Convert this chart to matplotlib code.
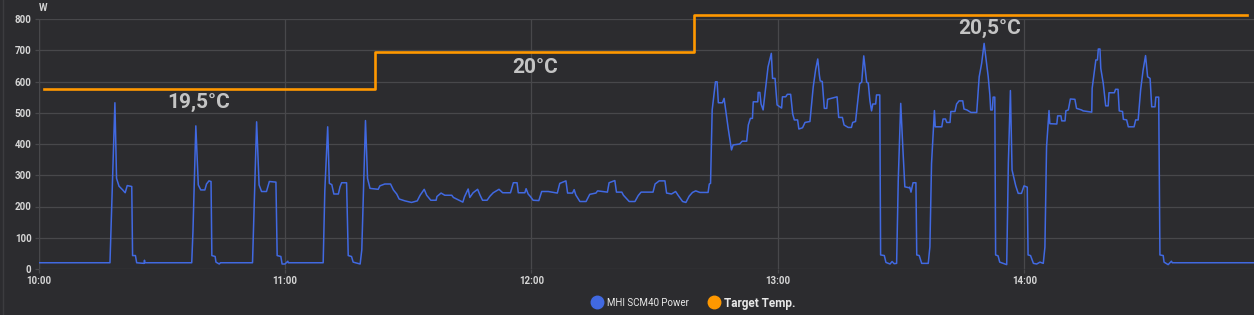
import matplotlib.pyplot as plt
from matplotlib.lines import Line2D

# minutes after 10:00 and power in W
power_min = [0, 17.4, 18.6, 19.0, 19.6, 20.5, 21.1, 21.6, 22.7, 22.9, 23.6, 23.9, 25.7, 25.8, 25.9,
             37.3, 37.6, 38.3, 38.9, 39.5, 40.5, 40.9, 41.5, 42.0, 42.2, 43.0, 43.2, 44.0, 44.3,
             52.1, 53.1, 53.7, 54.3, 55.5, 56.2, 57.8, 58.1, 59.0, 59.3, 60.0, 60.7, 60.8,
             69.3, 69.7, 70.4, 70.8, 71.4, 71.9, 73.0, 73.4, 73.8, 75.0, 75.4, 76.2, 76.6, 78.3,
             78.7, 79.6, 80.1, 80.7, 82.7, 83.1, 84.3, 85.7, 86.4, 87.2, 87.8, 89.2, 90.8, 92.2,
             92.9, 93.9, 94.5, 95.5, 96.8, 97.0, 98.0, 98.9, 100.6, 101.0, 103.3, 103.7, 104.6,
             105.0, 105.8, 106.9, 107.5, 108.1, 109.2, 109.9, 110.7, 112.1, 113.0, 114.9, 115.6,
             116.5, 116.8, 118.4, 118.7, 119.2, 119.8, 120.4, 121.8, 122.5, 124.1, 126.3, 126.9,
             128.4, 128.8, 130.0, 130.4, 130.8, 131.8, 133.3, 134.2, 135.7, 136.1, 138.5, 138.9,
             140.3, 140.7, 142.0, 142.4, 143.8, 145.2, 146.0, 146.7, 149.6, 150.1, 151.1, 152.5,
             152.9, 154.1, 155.1, 155.7, 156.8, 157.6, 158.4, 159.2, 160.0, 161.0, 163.0, 163.3,
             163.6, 164.0, 164.8, 165.2, 165.5, 166.5, 166.9, 167.9, 168.7, 169.1, 170.7, 171.3,
             172.4, 172.8, 173.3, 173.8, 174.0, 175.1, 175.2, 175.6, 175.9, 176.4, 177.6, 178.4,
             178.7, 179.3, 179.8, 180.9, 181.1, 181.9, 182.3, 183.1, 183.6, 184.0, 184.8, 185.1,
             186.0, 186.6, 187.8, 188.6, 189.2, 189.7, 190.1, 190.3, 190.8, 191.3, 191.9, 192.1,
             194.4, 194.8, 195.7, 196.1, 197.1, 197.9, 198.2, 198.9, 199.9, 200.4, 200.9, 201.6,
             202.0, 202.4, 202.8, 203.1, 203.8, 204.0, 204.8, 205.0, 205.9, 206.3, 207.3, 207.8,
             208.3, 208.9, 209.3, 209.9, 210.4, 210.9, 211.9, 212.1, 212.4, 212.9, 213.6, 213.8,
             214.4, 215.0, 216.6, 217.0, 217.4, 218.1, 218.3, 219.9, 220.2, 220.8, 221.1, 221.9,
             222.1, 223.1, 223.5, 224.1, 225.0, 225.3, 226.0, 227.0, 228.4, 229.0, 229.6, 230.2,
             230.8, 231.2, 231.6, 231.8, 232.2, 232.4, 232.8, 233.0, 233.6, 234.0, 235.7, 236.1,
             236.6, 237.0, 237.9, 238.5, 239.3, 239.9, 240.7, 240.9, 241.5, 242.2, 243.0, 243.8,
             244.6, 245.0, 245.4, 246.0, 246.2, 247.9, 248.1, 248.9, 249.1, 249.9, 250.1, 250.7,
             251.2, 252.3, 252.7, 253.9, 254.3, 256.4, 256.5, 257.4, 257.8, 258.0, 258.4, 258.6,
             259.2, 259.8, 260.4, 260.6, 261.9, 262.2, 262.8, 263.1, 263.9, 264.1, 264.9, 265.3,
             266.7, 267.1, 267.7, 268.3, 268.9, 269.5, 270.0, 270.6, 271.0, 271.8, 272.0, 272.7,
             273.0, 273.8, 274.0, 275.0, 275.8, 276.0, 295.9]
power_w = [20, 20, 532, 290, 265, 253, 244, 267, 264, 43, 43, 20, 18, 28, 20,
           20, 120, 458, 269, 253, 253, 272, 282, 280, 43, 40, 22, 16, 20,
           20, 471, 269, 248, 248, 280, 278, 43, 40, 16, 16, 25, 20,
           20, 250, 455, 274, 270, 240, 240, 263, 276, 276, 43, 40, 22, 16,
           61, 475, 290, 258, 255, 266, 272, 272, 253, 240, 224, 218, 213, 218,
           236, 255, 236, 220, 220, 232, 243, 236, 236, 229, 214, 231, 256,
           229, 244, 255, 236, 220, 220, 233, 244, 255, 244, 244, 276,
           276, 244, 244, 257, 240, 231, 220, 219, 248, 248, 243, 274,
           282, 243, 243, 254, 237, 216, 216, 239, 243, 250, 246, 276,
           283, 246, 246, 236, 216, 216, 235, 246, 246, 272, 282, 282,
           243, 240, 248, 236, 216, 213, 233, 245, 250, 245, 245, 272,
           274, 509, 599, 599, 532, 532, 546, 450, 381, 397, 400, 409,
           409, 461, 482, 482, 535, 535, 565, 565, 528, 509, 647, 690,
           610, 610, 525, 515, 551, 551, 559, 559, 496, 477, 477, 448,
           452, 469, 472, 583, 639, 672, 620, 602, 600, 514, 514, 543,
           551, 485, 485, 461, 453, 453, 469, 472, 593, 598, 682, 598,
           595, 538, 506, 528, 528, 557, 557, 45, 43, 21, 16, 24,
           17, 18, 285, 530, 391, 263, 260, 262, 246, 276, 276, 45,
           43, 18, 18, 71, 338, 507, 455, 455, 480, 480, 469, 469,
           504, 504, 528, 538, 538, 512, 509, 501, 501, 615, 658, 722,
           658, 615, 557, 509, 509, 550, 550, 45, 42, 22, 14, 338,
           571, 317, 266, 242, 242, 266, 262, 45, 43, 18, 16, 22,
           18, 70, 391, 507, 465, 464, 490, 490, 474, 474, 506, 509,
           544, 543, 514, 509, 506, 502, 578, 669, 669, 704, 704, 642,
           594, 522, 522, 564, 564, 575, 575, 506, 504, 479, 477, 455,
           455, 477, 477, 573, 636, 683, 615, 610, 519, 519, 550, 550,
           45, 43, 22, 14, 25, 20, 20]

# target temperature steps (minutes after 10:00, degC)
target_min = [1.4, 81.9, 159.5, 294.3]
target_c = [19.5, 20.0, 20.5, 20.5]
target_labels = ['19,5°C', '20°C', '20,5°C']
label_min = [39.1, 120.8, 231.6]
label_w = [534, 646, 771]

hour_ticks = [0, 60, 120, 180, 240]
hour_labels = ['10:00', '11:00', '12:00', '13:00', '14:00']
w_ticks = [0, 100, 200, 300, 400, 500, 600, 700, 800]

bg = '#2c2c2f'
grid_c = '#48484b'
txt_c = '#d6d6d6'
blue = '#4169e1'
orange = '#ff9800'

plt.rcParams['font.family'] = ['Roboto', 'DejaVu Sans']

fig = plt.figure(figsize=(12.54, 3.15), dpi=100, facecolor=bg)
ax = fig.add_axes([38.5 / 1254, 46 / 315, 1 - 38.5 / 1254, 250 / 315])
ax.set_facecolor(bg)

ax.plot(power_min, power_w, color=blue, lw=1.1, zorder=3)
ax.set_xlim(0, 295.9)
ax.set_ylim(0, 800)
ax.set_xticks(hour_ticks, hour_labels)
ax.set_yticks(w_ticks)
ax.grid(True, color=grid_c, lw=0.9)
for s in ax.spines.values():
    s.set_visible(False)
ax.tick_params(colors=grid_c, labelcolor=txt_c, labelsize=7, length=3, width=0.9, pad=2)
for lab in ax.get_xticklabels() + ax.get_yticklabels():
    lab.set_fontweight('bold')
ax.axvline(0, color=grid_c, lw=0.9)

ax2 = ax.twinx()
ax2.set_ylim(17.07, 20.45)
ax2.step(target_min, target_c, where='post', color=orange, lw=1.9, clip_on=False, zorder=4)
ax2.axis('off')

for t, xm, yw in zip(target_labels, label_min, label_w):
    ax.text(xm, yw, t, color='#c4c4c4', fontsize=15, fontweight='bold',
            ha='center', va='center', zorder=5)

fig.text(39 / 1254, 1 - 8 / 315, 'W', color=txt_c, fontsize=7, fontweight='bold', va='center')
fig.add_artist(Line2D([3 / 1254, 3 / 1254], [0, 1], color='#3c3c3f', lw=1))

handles = [Line2D([], [], ls='', marker='o', ms=9, color=blue),
           Line2D([], [], ls='', marker='o', ms=9, color=orange)]
leg = fig.legend(handles, ['MHI SCM40 Power', 'Target Temp.'], loc='center',
                 bbox_to_anchor=(692 / 1254, 12 / 315), ncol=2, frameon=False,
                 handletextpad=0.1, columnspacing=1.2, handlelength=1.2)
for t in leg.get_texts():
    t.set_color('#e8e8e8')
leg.get_texts()[0].set_fontsize(7)
leg.get_texts()[1].set_fontsize(8.5)
leg.get_texts()[1].set_fontweight('bold')

fig.savefig('out.png', dpi=100, facecolor=bg)
